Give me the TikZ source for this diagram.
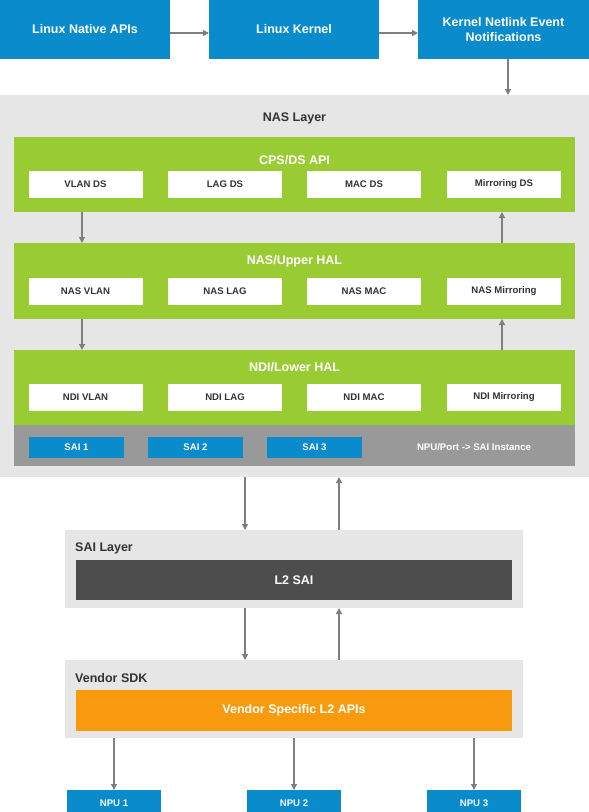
\documentclass[tikz,border=0pt]{standalone}
\usepackage{fontspec}
\setmainfont{Liberation Sans}
\usetikzlibrary{arrows.meta}
\definecolor{dblue}{HTML}{0A8BCB}
\definecolor{lgrey}{HTML}{E6E6E6}
\definecolor{mgrey}{HTML}{999999}
\definecolor{dgrey}{HTML}{4D4D4D}
\definecolor{lgreen}{HTML}{99CC33}
\definecolor{orng}{HTML}{F89A0E}
\definecolor{arrgrey}{HTML}{7F7F7F}
\definecolor{txtgrey}{HTML}{333333}
\tikzset{
  box/.style={inner sep=0pt, outer sep=0pt, align=center, font=\bfseries},
  bigfont/.style={font=\bfseries\fontsize{12.5}{15}\selectfont},
  smallfont/.style={font=\bfseries\fontsize{9.6}{11}\selectfont},
  bluebox/.style={box, fill=dblue, text=white},
  topbox/.style={bluebox, minimum width=170pt, minimum height=59pt, bigfont},
  whitebox/.style={box, fill=white, text=txtgrey, minimum width=114pt, minimum height=27pt, smallfont},
  greenbox/.style={box, fill=lgreen},
  greybox/.style={box, fill=lgrey},
  saibox/.style={bluebox, minimum width=95pt, minimum height=21pt, smallfont},
  npubox/.style={bluebox, minimum width=94pt, minimum height=26pt, smallfont},
  conn/.style={draw=arrgrey, line width=1.3pt, -{Triangle[length=6pt,width=6pt]}},
  gtitle/.style={text=white, bigfont, inner sep=0pt},
  ltitle/.style={text=txtgrey, bigfont, inner sep=0pt},
}
\begin{document}
\begin{tikzpicture}[x=1pt,y=-1pt]
\useasboundingbox[fill=white] (0,0) rectangle (589,812);
% top row
\node[topbox] (lna) at (85,29.5) {Linux Native APIs};
\node[topbox] (lk) at (294,29.5) {Linux Kernel};
\node[topbox, minimum width=171pt] (knl) at (503.5,29.5) {Kernel Netlink Event\\Notifications};
% NAS layer
\node[greybox, minimum width=589pt, minimum height=382pt] (nas) at (294.5,286) {};
\node[ltitle] (nast) at (294.5,118) {NAS Layer};
% CPS/DS
\node[greenbox, minimum width=561pt, minimum height=75pt] (cps) at (294.5,174.5) {};
\node[gtitle] (cpst) at (294.5,160) {CPS/DS API};
\node[whitebox] (c1) at (85.5,184.5) {VLAN DS};
\node[whitebox] (c2) at (225,184.5) {LAG DS};
\node[whitebox] (c3) at (364,184.5) {MAC DS};
\node[whitebox] (c4) at (504,184.5) {Mirroring DS};
% NAS/Upper HAL
\node[greenbox, minimum width=561pt, minimum height=76pt] (uhal) at (294.5,281) {};
\node[gtitle] (uhalt) at (294.5,261) {NAS/Upper HAL};
\node[whitebox] (u1) at (85.5,291.5) {NAS VLAN};
\node[whitebox] (u2) at (225,291.5) {NAS LAG};
\node[whitebox] (u3) at (364,291.5) {NAS MAC};
\node[whitebox] (u4) at (504,291.5) {NAS Mirroring};
% NDI/Lower HAL
\node[greenbox, minimum width=561pt, minimum height=75pt] (lhal) at (294.5,387.5) {};
\node[gtitle] (lhalt) at (294.5,367) {NDI/Lower HAL};
\node[whitebox] (l1) at (85.5,397.5) {NDI VLAN};
\node[whitebox] (l2) at (225,397.5) {NDI LAG};
\node[whitebox] (l3) at (364,397.5) {NDI MAC};
\node[whitebox] (l4) at (504,397.5) {NDI Mirroring};
% SAI strip
\node[box, fill=mgrey, minimum width=561pt, minimum height=41pt] (strip) at (294.5,445.5) {};
\node[saibox] (s1) at (76.5,447.5) {SAI 1};
\node[saibox] (s2) at (195.5,447.5) {SAI 2};
\node[saibox] (s3) at (314.5,447.5) {SAI 3};
\node[text=white, smallfont, inner sep=0pt] (npuport) at (474,447) {NPU/Port -> SAI Instance};
% SAI layer
\node[greybox, minimum width=458pt, minimum height=78pt] (sai) at (294,569) {};
\node[ltitle, anchor=west] (sait) at (75,548) {SAI Layer};
\node[box, fill=dgrey, text=white, minimum width=436pt, minimum height=40pt, bigfont] (l2sai) at (294,580) {L2 SAI};
% Vendor SDK
\node[greybox, minimum width=458pt, minimum height=78pt] (sdk) at (294,699) {};
\node[ltitle, anchor=west] (sdkt) at (75,678) {Vendor SDK};
\node[box, fill=orng, text=white, minimum width=436pt, minimum height=41pt, bigfont] (vsl2) at (294,710.5) {Vendor Specific L2 APIs};
% NPUs
\node[npubox] (n1) at (114,803) {NPU 1};
\node[npubox] (n2) at (294,803) {NPU 2};
\node[npubox] (n3) at (474,803) {NPU 3};
% connectors
\draw[conn] (lna.east |- 0,33) -- (lk.west |- 0,33);
\draw[conn] (lk.east |- 0,33) -- (knl.west |- 0,33);
\draw[conn] (knl.south -| 508,0) -- (nas.north -| 508,0);
\draw[conn] (cps.south -| 82,0) -- (uhal.north -| 82,0);
\draw[conn] (uhal.north -| 502,0) -- (cps.south -| 502,0);
\draw[conn] (uhal.south -| 82,0) -- (lhal.north -| 82,0);
\draw[conn] (lhal.north -| 502,0) -- (uhal.south -| 502,0);
\draw[conn] (nas.south -| 245,0) -- (sai.north -| 245,0);
\draw[conn] (sai.north -| 339,0) -- (nas.south -| 339,0);
\draw[conn] (sai.south -| 245,0) -- (sdk.north -| 245,0);
\draw[conn] (sdk.north -| 339,0) -- (sai.south -| 339,0);
\draw[conn] (sdk.south -| n1.north) -- (n1.north);
\draw[conn] (sdk.south -| n2.north) -- (n2.north);
\draw[conn] (sdk.south -| n3.north) -- (n3.north);
\end{tikzpicture}
\end{document}
